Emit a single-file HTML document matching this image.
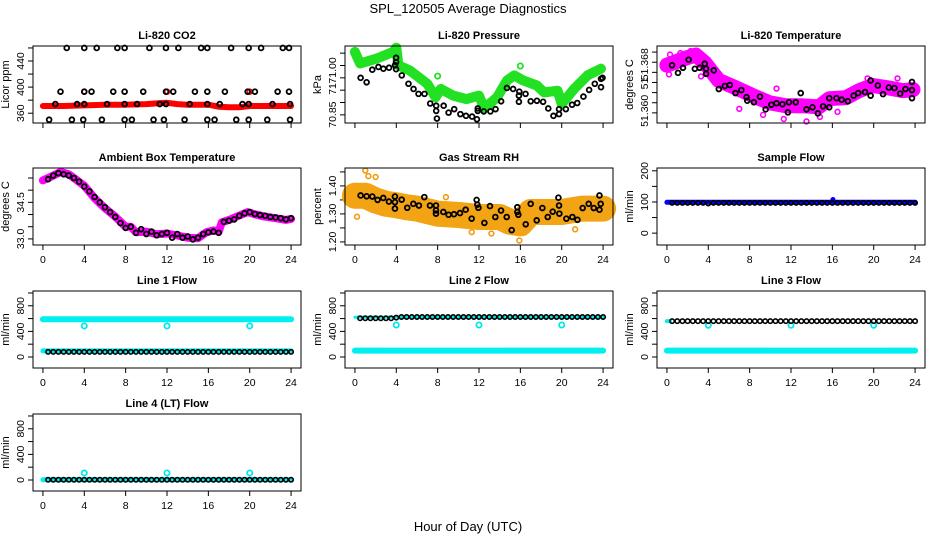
<!DOCTYPE html>
<html><head><meta charset="utf-8">
<style>
html,body{margin:0;padding:0;background:#fff;}
svg{display:block;font-family:"Liberation Sans",Arial,sans-serif;}
.t{font-size:11px;font-weight:bold;text-anchor:middle;}
.tk{font-size:10.5px;text-anchor:middle;}
</style></head>
<body>
<svg id="fig" width="936" height="540" viewBox="0 0 936 540">
<text x="468" y="13" font-size="13" text-anchor="middle">SPL_120505  Average Diagnostics</text>
<text x="468" y="531" font-size="13" text-anchor="middle">Hour of Day (UTC)</text>
</svg>
<script>
// ---------- data ----------
const hrs=[0.5,1,1.5,2,2.5,3,3.5,4,4.5,5,5.5,6,6.5,7,7.5,8,8.5,9,9.5,10,10.5,11,11.5,12,12.5,13,13.5,14,14.5,15,15.5,16,16.5,17,17.5,18,18.5,19,19.5,20,20.5,21,21.5,22,22.5,23,23.5,24];
const xTicks=[0,4,8,12,16,20,24];
// CO2
const co2RedH=[0,2,4,6,8,10,11,12,13,14,16,17,18,19,20,22,24];
const co2RedV=[371,371,372,373,373,374,375,376,374,373,373,370,369,369,371,371,371];
const co2TopH=[2.3,4,5.2,7.2,7.9,10.3,11.9,13.1,15.3,15.9,18.2,19.9,21.1,23.2,23.8];
const co2MidH=[1.7,4,4.7,6.8,7.9,9.7,11.9,12.6,14.7,15.9,17.6,19.8,20.5,22.7,23.8];
const co2LowH=[1.2,3.3,4,6.2,7.9,9.1,11.3,11.9,14.2,15.9,17.1,19.3,19.9,22.2,23.9];
const co2BotH=[0.6,2.8,3.9,5.7,7.9,8.6,10.7,11.7,13.7,15.9,16.6,18.7,19.9,21.7,23.9];
const co2Levels=[460,393,374,350];
const co2RedDotH=[4,12,20];
const co2RedDotV=[393,393,393];
// Pressure
const prGreenH=[0,0.5,2.1,3.7,4.0,4.2,5.3,7.0,7.8,8.3,9.5,10.8,12.0,12.5,13.75,14.7,15.4,16.3,17.6,18.3,19.6,20.0,21.2,22.5,23.8];
const prGreenV=[71.105,71.058,71.078,71.105,71.122,71.051,71.030,70.976,70.921,70.955,70.928,70.914,70.928,70.876,70.921,70.989,71.010,70.989,70.969,70.941,70.948,70.894,70.955,71.010,71.037];
const prSpikeH=[0,8.0,16.0];
const prSpikeV=[71.105,71.007,71.048];
const prBlackH=[0.55,1.13,1.68,2.27,2.75,3.3,3.88,3.98,3.98,3.98,4.53,5.18,5.67,6.15,6.73,7.28,7.86,7.86,7.93,8.58,9.06,9.6,10.2,10.74,11.33,11.8,11.88,11.88,12.46,13.1,13.6,14.14,14.7,15.3,15.86,15.86,15.9,16.5,17.0,17.6,18.2,18.7,19.2,19.74,19.74,20.4,21.0,21.5,22.1,22.65,23.2,23.8,23.8,23.95];
const prBlackV=[71.000,70.982,71.033,71.044,71.037,71.041,71.051,71.081,71.064,71.035,71.010,70.976,70.955,70.935,70.935,70.896,70.887,70.866,70.835,70.887,70.859,70.873,70.853,70.846,70.843,70.832,70.876,70.866,70.864,70.864,70.873,70.905,70.959,70.955,70.928,70.903,70.944,70.935,70.905,70.907,70.903,70.876,70.846,70.853,70.873,70.873,70.891,70.898,70.924,70.951,70.976,70.996,70.962,71.000];
// Li-820 temperature
const tmMagH=[0,1.8,2.8,3.7,5,6.6,8.3,9.9,11.5,13.1,14.7,15.7,17.3,18.6,19.9,21.2,22.8,23.8];
const tmMagV=[51.3694,51.3708,51.3714,51.3698,51.3664,51.365,51.3634,51.362,51.3614,51.3614,51.3612,51.3628,51.363,51.3644,51.3654,51.365,51.3644,51.3646];
const tmOutH=[0.3,1.3,2.3,0.2,19.4,22.3,10.6,11.3,14.8,9.3,13.5,3.3,16.5,7.0];
const tmOutV=[51.3715,51.3718,51.3722,51.3676,51.3668,51.3668,51.3648,51.3588,51.3592,51.3596,51.3583,51.3672,51.3602,51.3608];
const tmBlackH=[0.5,1.07,1.55,2.1,2.7,3.17,3.66,3.79,3.79,4.53,5.02,5.6,6.08,6.63,7.2,7.7,7.77,8.41,9.0,9.55,10.1,10.6,11.17,11.7,11.8,12.46,12.94,13.5,14.08,14.6,15.1,15.7,15.7,16.4,16.9,17.5,18.06,18.5,19.16,19.7,19.7,20.4,20.9,21.46,22.0,22.56,23.07,23.7,23.7,23.7];
const tmBlackV=[51.3694,51.3679,51.3689,51.3705,51.3687,51.3689,51.3697,51.3677,51.3687,51.3684,51.3647,51.3653,51.3655,51.3639,51.3645,51.3631,51.3624,51.3621,51.3632,51.3607,51.3616,51.3619,51.3617,51.3601,51.3621,51.3621,51.3639,51.3607,51.3611,51.3599,51.3613,51.3611,51.3629,51.3629,51.3626,51.3623,51.3634,51.3639,51.3641,51.3664,51.3634,51.3654,51.3637,51.3650,51.3649,51.3638,51.3647,51.3661,51.3645,51.3629];
// Ambient box temperature
const abMagH=[0,0.5,1,1.7,2.5,3,4,5,6,7,8,8.5,9,10,11,12,13,14,15,15.8,16.5,17,17.3,18,19,19.8,20.5,21.5,22.5,23.5,24];
const abMagV=[35.4,35.5,35.6,35.75,35.65,35.5,35.18,34.67,34.26,33.91,33.5,33.5,33.27,33.3,33.19,33.22,33.14,33.05,33.03,33.27,33.35,33.3,33.68,33.78,33.96,34.1,34.01,33.91,33.85,33.78,33.82];
const abBlack=[35.45,35.6,35.7,35.65,35.6,35.5,35.35,35.15,34.95,34.72,34.5,34.3,34.1,33.9,33.65,33.45,33.5,33.25,33.4,33.2,33.3,33.15,33.2,33.25,33.05,33.2,33.05,33.1,32.98,33.05,33.2,33.27,33.3,33.25,33.7,33.75,33.8,33.95,34.05,34.1,34.02,33.98,33.95,33.9,33.88,33.85,33.8,33.85];
// Gas stream RH
const rhBandH=[0,1,2,3,4,5,6,8,10,12,14,15,16,17,18,20,22,24];
const rhBandV=[1.365,1.365,1.348,1.336,1.331,1.324,1.319,1.301,1.296,1.289,1.289,1.272,1.266,1.307,1.307,1.307,1.319,1.319];
const rhOutH=[1.0,1.3,2.0,0.2,11.3,13.2,15.9,21.3,8.8];
const rhOutV=[1.455,1.435,1.432,1.29,1.235,1.23,1.205,1.245,1.36];
const rhBlackH=[0.55,1.13,1.68,2.19,2.74,3.29,3.87,3.87,3.87,4.52,5.06,5.65,6.19,6.71,7.26,7.84,7.84,7.84,8.55,9.06,9.58,10.16,10.71,11.29,11.77,11.84,11.94,12.52,13.06,13.58,14.13,14.68,15.16,15.71,15.71,15.8,16.52,17.0,17.58,18.13,18.65,19.13,19.68,19.74,19.77,20.45,21.03,21.52,22.03,22.61,23.1,23.65,23.65,23.77];
const rhBlackV=[1.366,1.363,1.362,1.350,1.357,1.344,1.362,1.342,1.319,1.351,1.322,1.336,1.330,1.360,1.330,1.330,1.313,1.301,1.307,1.297,1.299,1.303,1.315,1.283,1.350,1.333,1.322,1.268,1.328,1.289,1.312,1.289,1.242,1.324,1.307,1.297,1.263,1.336,1.277,1.321,1.289,1.308,1.358,1.330,1.301,1.283,1.289,1.279,1.321,1.336,1.321,1.366,1.315,1.336];
// Sample flow
const sfBlueH=[0,4,8,12,16,16.05,16.1,20,24];
const sfBlueV=[99,99,99,99,99,108,99,99,99];
const sfBlack=[97,97,97,97,97,97,97,95,97,97,97,97,97,97,97,97,97,97,97,97,97,97,97,97,97,97,97,97,97,97,97,97,97,97,97,97,97,97,97,97,97,97,97,97,97,97,97,97];
// Line flows
const l1CyanHiH=[0,4,8,12,16,20,24];
const l1CyanHiV=[590,590,590,590,590,590,590];
const l1CyanLoH=[0,4,8,12,16,20,24];
const l1CyanLoV=[95,95,95,95,95,95,95];
const dipH=[4,12,20];
const l1DipV=[485,485,485];
const l1Black=[80,80,80,80,80,80,80,80,80,80,80,80,80,80,80,80,80,80,80,80,80,80,80,80,80,80,80,80,80,80,80,80,80,80,80,80,80,80,80,80,80,80,80,80,80,80,80,80];
const l2CyanLoH=[0,4,8,12,16,20,24];
const l2CyanLoV=[100,100,100,100,100,100,100];
const l2CyanHiH=[0,24];
const l2CyanHiV=[620,620];
const l2DipV=[500,500,500];
const l2Black=[605,605,605,605,605,605,605,615,625,625,625,625,625,625,625,625,625,625,625,625,625,625,625,625,625,625,625,625,625,625,625,625,625,625,625,625,625,625,625,625,625,625,625,625,625,625,625,625];
const l3CyanLoH=[0,4,8,12,16,20,24];
const l3CyanLoV=[100,100,100,100,100,100,100];
const l3CyanHiH=[0,0.3];
const l3CyanHiV=[560,560];
const l3DipV=[495,495,495];
const l3Black=[560,560,560,560,560,560,560,560,560,560,560,560,560,560,560,560,560,560,560,560,560,560,560,560,560,560,560,560,560,560,560,560,560,560,560,560,560,560,560,560,560,560,560,560,560,560,560,560];
const l4CyanH=[0,4,8,12,16,20,24];
const l4CyanV=[5,5,5,5,5,5,5];
const l4DipV=[110,110,110];
const l4Black=[3,3,3,3,3,3,3,3,3,3,3,3,3,3,3,3,3,3,3,3,3,3,3,3,3,3,3,3,3,3,3,3,3,3,3,3,3,3,3,3,3,3,3,3,3,3,3,3];

// ---------- drawing ----------
const NS='http://www.w3.org/2000/svg';
const fig=document.getElementById('fig');
const W=268,H=77,colX=[33,345,657],rowY=[46,168,291,414];
function mk(tag,attrs,parent){const e=document.createElementNS(NS,tag);for(const k in attrs)e.setAttribute(k,attrs[k]);(parent||fig).appendChild(e);return e;}

function panel(key,c,r,title,ylab,ymin,ymax,yTicks,yLabV,yLabT,showX){
  const x0=colX[c],y0=rowY[r];
  const g=mk('g',{});
  
  
  const sx=h=>x0+(h+0.96)/25.92*W;
  const sy=v=>y0+H-(v-ymin)/(ymax-ymin)*H;
  const t=mk('text',{x:x0+W/2,y:y0-7,class:'t'},g);t.textContent=title;
  
  
  const yl=mk('text',{x:0,y:0,'font-size':11,'text-anchor':'middle',transform:`translate(${x0-24},${y0+H/2}) rotate(-90)`},g);yl.textContent=ylab;
  
  
  const ax=mk('g',{stroke:'#000','stroke-width':1},g);
  
  
  yTicks.forEach(v=>{const y=sy(v);mk('line',{x1:x0-5,x2:x0,y1:y,y2:y},ax);});
  mk('line',{x1:x0,x2:x0,y1:sy(yTicks[0]),y2:sy(yTicks[yTicks.length-1])},ax);
  yLabV.forEach((v,i)=>{const tx=mk('text',{x:0,y:0,class:'tk',stroke:'none',transform:`translate(${x0-9},${sy(v)}) rotate(-90)`},g);tx.textContent=yLabT[i];
    
    });
  xTicks.forEach(h=>{const x=sx(h);mk('line',{x1:x,x2:x,y1:y0+H,y2:y0+H+5},ax);
    if(showX){const tx=mk('text',{x:x,y:y0+H+18,class:'tk',stroke:'none'},g);tx.textContent=h;
      
      }});
  const plot=mk('g',{},g);
  
  
  mk('rect',{x:x0,y:y0,width:W,height:H,fill:'none',stroke:'#000','stroke-width':1},g);
  return {sx,sy,plot};
}
function band(p,name,hs,vs,color,w){
  const pts=hs.map((h,i)=>p.sx(h).toFixed(1)+','+p.sy(vs[i]).toFixed(1)).join(' ');
  const l=mk('polyline',{points:pts,fill:'none',stroke:color,'stroke-width':w,'stroke-linejoin':'round','stroke-linecap':'round'},p.plot);
  
  
}
function pts(p,name,hs,vs,color,r,sw){
  const gg=mk('g',{fill:'none',stroke:color,'stroke-width':sw||1.8},p.plot);
  
  
  hs.forEach((h,i)=>{const c=mk('circle',{cx:p.sx(h),cy:p.sy(vs[i]),r:r||2.4},gg);
    
    });
}

// CO2
let p=panel('co2',0,0,'Li-820 CO2','Licor ppm',345,463,[360,380,400,420,440,460],[360,400,440],['360','400','440'],false);
band(p,'co2-red-band',co2RedH,co2RedV,'#ff0000',6);
pts(p,'co2-red-points',co2RedDotH,co2RedDotV,'#ff0000');
[co2TopH,co2MidH,co2LowH,co2BotH].forEach((hh,k)=>pts(p,'co2-black-points',hh,hh.map(()=>co2Levels[k]),'#000'));
// Pressure
p=panel('pressure',1,0,'Li-820 Pressure','kPa',70.817,71.129,[70.85,70.90,70.95,71.00,71.05,71.10],[70.851,70.955,71.03],['70.85','71','71.00'],false);
band(p,'pressure-green-band',prGreenH,prGreenV,'#22e022',10);
pts(p,'pressure-green-spikes',prSpikeH,prSpikeV,'#22e022',2.6,1.8);
pts(p,'pressure-black-points',prBlackH,prBlackV,'#000');
// Temperature
p=panel('li820-temp',2,0,'Li-820 Temperature','degrees C',51.358,51.3732,[51.360,51.362,51.364,51.366,51.368,51.370,51.372],[51.3604,51.3658,51.3696],['51.360','51','51.368'],false);
band(p,'temp-magenta-band',tmMagH,tmMagV,'#ff00ff',15);
pts(p,'temp-magenta-outliers',tmOutH,tmOutV,'#ff00ff',2.4,1.6);
pts(p,'temp-black-points',tmBlackH,tmBlackV,'#000');
// Ambient
p=panel('ambient',0,1,'Ambient Box Temperature','degrees C',32.75,35.91,[33,33.5,34,34.5,35,35.5],[33,34.5],['33.0','34.5'],true);
band(p,'ambient-magenta-band',abMagH,abMagV,'#ff00ff',8);
pts(p,'ambient-black-points',hrs,abBlack,'#000');
// RH
p=panel('rh',1,1,'Gas Stream RH','percent',1.189,1.464,[1.20,1.25,1.30,1.35,1.40,1.45],[1.20,1.30,1.40],['1.20','1.30','1.40'],true);
band(p,'rh-orange-band',rhBandH,rhBandV,'#f2a414',26);
pts(p,'rh-orange-outliers',rhOutH,rhOutV,'#f29a10',2.4,1.6);
pts(p,'rh-black-points',rhBlackH,rhBlackV,'#000');
// Sample flow
p=panel('sample-flow',2,1,'Sample Flow','ml/min',-38,209,[0,50,100,150,200],[0,100,200],['0','100','200'],true);
band(p,'sample-blue-band',sfBlueH,sfBlueV,'#0000ff',5);
pts(p,'sample-black-points',hrs,sfBlack,'#000',2.2,1.6);
// Line 1
const fT=[0,200,400,600,800,1000],fLV=[0,400,800],fLT=['0','400','800'];
p=panel('line1',0,2,'Line 1 Flow','ml/min',-172,1031,fT,fLV,fLT,true);
band(p,'line1-cyan-high',l1CyanHiH,l1CyanHiV,'#00f0f0',6);
band(p,'line1-cyan-low',l1CyanLoH,l1CyanLoV,'#00f0f0',5);
pts(p,'line1-cyan-dips',dipH,l1DipV,'#00e8e8',2.6,1.8);
pts(p,'line1-black-points',hrs,l1Black,'#000',2.2,1.6);
// Line 2
p=panel('line2',1,2,'Line 2 Flow','ml/min',-172,1031,fT,fLV,fLT,true);
band(p,'line2-cyan-low',l2CyanLoH,l2CyanLoV,'#00f0f0',6);
band(p,'line2-cyan-high',l2CyanHiH,l2CyanHiV,'#00f0f0',3);
pts(p,'line2-cyan-dips',dipH,l2DipV,'#00e8e8',2.6,1.8);
pts(p,'line2-black-points',hrs,l2Black,'#000',2.2,1.6);
// Line 3
p=panel('line3',2,2,'Line 3 Flow','ml/min',-172,1031,fT,fLV,fLT,true);
band(p,'line3-cyan-low',l3CyanLoH,l3CyanLoV,'#00f0f0',6);
band(p,'line3-cyan-high',l3CyanHiH,l3CyanHiV,'#00f0f0',4);
pts(p,'line3-cyan-dips',dipH,l3DipV,'#00e8e8',2.6,1.8);
pts(p,'line3-black-points',hrs,l3Black,'#000',2.2,1.6);
// Line 4
p=panel('line4',0,3,'Line 4 (LT) Flow','ml/min',-172,1031,fT,fLV,fLT,true);
band(p,'line4-cyan-band',l4CyanH,l4CyanV,'#00f0f0',5);
pts(p,'line4-cyan-dips',dipH,l4DipV,'#00e8e8',2.6,1.8);
pts(p,'line4-black-points',hrs,l4Black,'#000',2.2,1.6);
</script>
</body></html>
